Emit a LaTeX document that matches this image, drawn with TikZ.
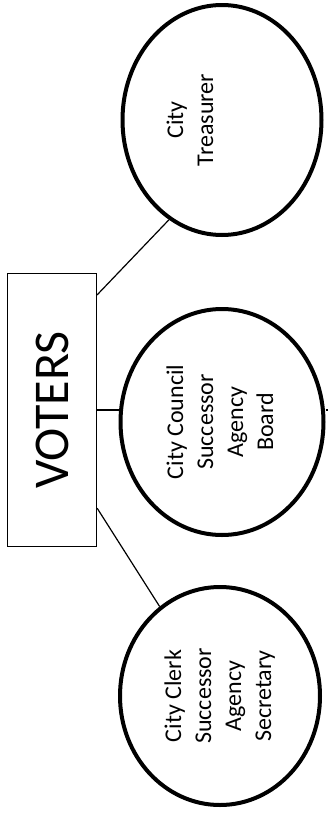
\documentclass[tikz,border=0pt]{standalone}
\usepackage{fontspec}
\setmainfont{Carlito}
\usepackage{tikz}
\usetikzlibrary{shapes.geometric}

\begin{document}
\begin{tikzpicture}[x=1pt, y=-1pt,
    votersbox/.style={rectangle, draw, line width=1.2pt, minimum width=89pt,
                minimum height=273pt, inner sep=0pt, font=\fontsize{50}{60}\selectfont},
    office/.style={ellipse, draw, line width=4pt, inner sep=0pt,
                font=\fontsize{24}{30}\selectfont},
    link/.style={line width=1.2pt}]
\useasboundingbox (0,0) rectangle (328,814);
\node[votersbox] (voters) at (52,410) {\rotatebox{90}{VOTERS}};
\node[office, minimum width=199pt, minimum height=230pt] (treasurer) at (222,120)
    {\rotatebox{90}{\begin{tabular}{c}City\\Treasurer\\~\\~\end{tabular}}};
\node[office, minimum width=203pt, minimum height=226pt] (council) at (222,422)
    {\rotatebox{90}{\begin{tabular}{c}City Council\\Successor\\Agency\\Board\end{tabular}}};
\node[office, minimum width=200pt, minimum height=218pt] (clerk) at (220,696)
    {\rotatebox{90}{\begin{tabular}{c}City Clerk\\Successor\\Agency\\Secretary\end{tabular}}};
\coordinate (edge) at (332,410);
\draw[link] ([yshift=-22pt]voters.north east) -- (treasurer.242);
\draw[link] (voters.east) -- (voters.east -| council.west);
\draw[link] ([yshift=39pt]voters.south east) -- (clerk.124);
\draw[link] (voters.east -| council.east) -- (edge);
\end{tikzpicture}
\end{document}
